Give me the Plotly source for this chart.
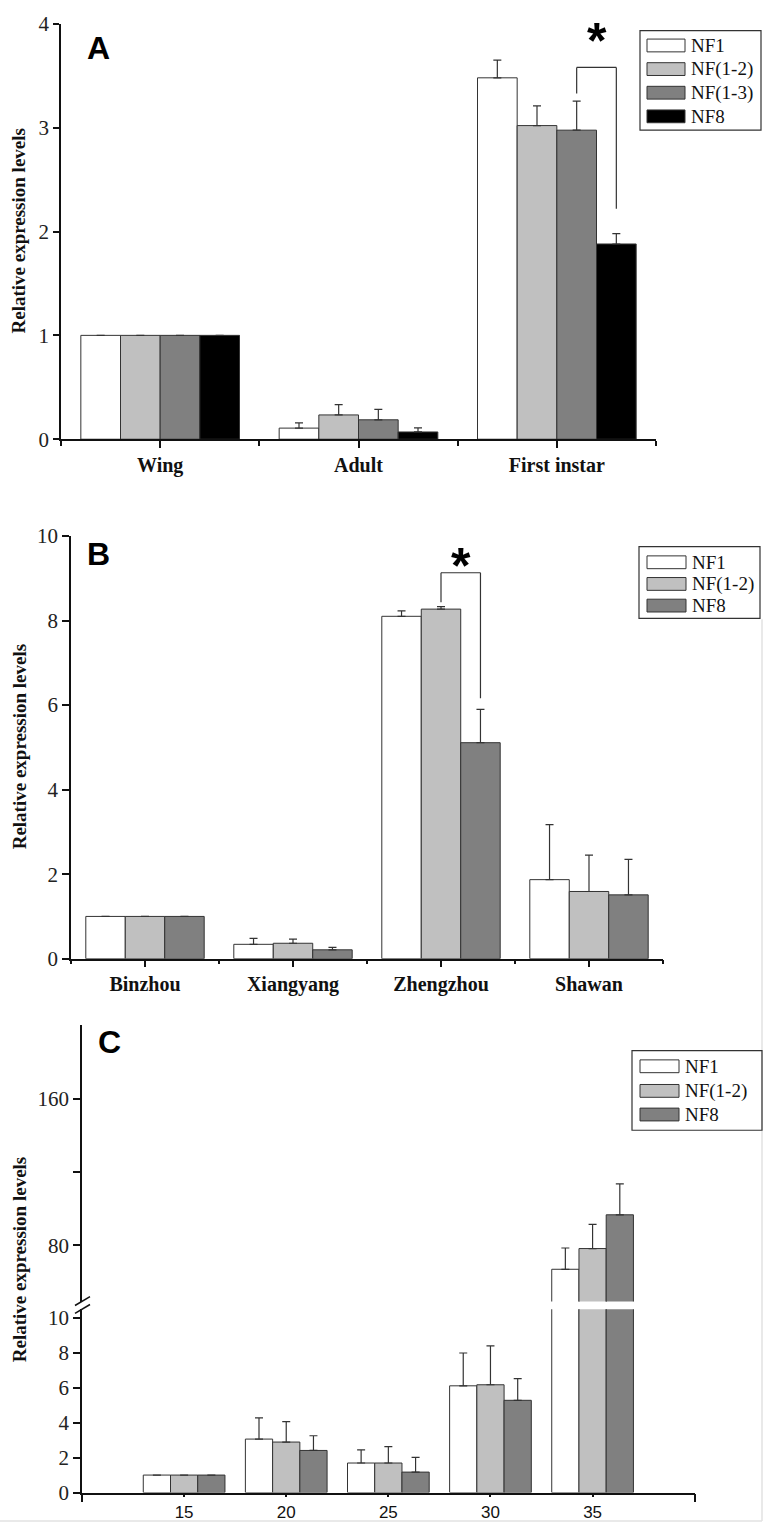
import plotly.graph_objects as go

W, H = 767, 1538
def px(x): return x / W
def py(y): return 1 - y / H

SERIF = "Liberation Serif, Times New Roman, serif"
SANS = "Liberation Sans, Arial, sans-serif"

# ---------------- data ----------------
# Panel A
cats_A = ["Wing", "Adult", "First instar"]
series_A = ["NF1", "NF(1-2)", "NF(1-3)", "NF8"]
colors_A = ["#ffffff", "#c0c0c0", "#808080", "#000000"]
nf1_A = [1.0, 0.107, 3.48]
nf12_A = [1.0, 0.234, 3.02]
nf13_A = [1.0, 0.187, 2.976]
nf8_A = [1.0, 0.07, 1.88]
nf1_A_err = [0, 0.05, 0.17]
nf12_A_err = [0, 0.10, 0.19]
nf13_A_err = [0, 0.10, 0.28]
nf8_A_err = [0, 0.04, 0.10]

# Panel B
cats_B = ["Binzhou", "Xiangyang", "Zhengzhou", "Shawan"]
series_B = ["NF1", "NF(1-2)", "NF8"]
colors_B = ["#ffffff", "#c0c0c0", "#808080"]
nf1_B = [1.0, 0.34, 8.10, 1.87]
nf12_B = [1.0, 0.365, 8.27, 1.59]
nf8_B = [1.0, 0.21, 5.11, 1.51]
nf1_B_err = [0, 0.14, 0.13, 1.30]
nf12_B_err = [0, 0.10, 0.06, 0.86]
nf8_B_err = [0, 0.06, 0.79, 0.84]

# Panel C
temps_C = [15, 20, 25, 30, 35]
series_C = ["NF1", "NF(1-2)", "NF8"]
colors_C = ["#ffffff", "#c0c0c0", "#808080"]
nf1_C = [1.0, 3.06, 1.69, 6.11, 66.9]
nf12_C = [1.0, 2.89, 1.69, 6.17, 78.2]
nf8_C = [1.0, 2.41, 1.17, 5.28, 96.6]
nf1_C_err = [0, 1.21, 0.75, 1.88, 11.6]
nf12_C_err = [0, 1.17, 0.94, 2.23, 13.2]
nf8_C_err = [0, 0.84, 0.84, 1.24, 16.9]

vals_A = [nf1_A, nf12_A, nf13_A, nf8_A]
errs_A = [nf1_A_err, nf12_A_err, nf13_A_err, nf8_A_err]
vals_B = [nf1_B, nf12_B, nf8_B]
errs_B = [nf1_B_err, nf12_B_err, nf8_B_err]
vals_C = [nf1_C, nf12_C, nf8_C]
errs_C = [nf1_C_err, nf12_C_err, nf8_C_err]

fig = go.Figure()

def add_bars(xs, vals, errs, names, colors, xa, ya, tag):
    for v, e, n, c in zip(vals, errs, names, colors):
        fig.add_trace(go.Bar(
            x=xs, y=v, name=n, showlegend=False,
            offsetgroup=n,
            marker=dict(color=c, line=dict(color="#333333", width=1)),
            error_y=dict(type="data", symmetric=False, array=e,
                         arrayminus=[0] * len(e), color="#333333",
                         thickness=1.2, width=4),
            xaxis=xa, yaxis=ya, legendgroup=tag + n,
        ))

add_bars(list(range(len(cats_A))), vals_A, errs_A, series_A, colors_A, "x", "y", "A")
add_bars(list(range(len(cats_B))), vals_B, errs_B, series_B, colors_B, "x2", "y2", "B")
add_bars(temps_C, vals_C, errs_C, series_C, colors_C, "x3", "y3", "C")
add_bars(temps_C, vals_C, errs_C, series_C, colors_C, "x3", "y4", "C")

axis_common = dict(showline=True, linecolor="#111111", linewidth=1.6,
                   showgrid=False, zeroline=False, ticks="outside",
                   tickcolor="#111111", tickwidth=1.5)
ytickfont = dict(family=SERIF, size=21, color="#222222")
xcatfont = dict(family=SERIF, size=20, color="#111111", weight="bold")

fig.update_layout(
    width=W, height=H, margin=dict(l=0, r=0, t=0, b=0),
    paper_bgcolor="white", plot_bgcolor="white",
    barmode="group", bargap=0.2, bargroupgap=0,
    showlegend=False,
    xaxis=dict(domain=[px(61), px(656)], range=[-0.5, 2.5], anchor="y",
               tickmode="array", tickvals=list(range(len(cats_A))), ticktext=cats_A,
               tickfont=xcatfont, ticklen=7,
               minor=dict(tickmode="array", tickvals=[-0.5, 0.5, 1.5, 2.5],
                          ticks="outside", ticklen=5, tickcolor="#111111", tickwidth=1.5),
               **axis_common),
    yaxis=dict(domain=[py(434), py(12)], range=[0, 4], anchor="x",
               tickmode="array", tickvals=[0, 1, 2, 3, 4], tickfont=ytickfont,
               ticklen=6, **axis_common),
    xaxis2=dict(domain=[px(71), px(663)], range=[-0.5, 3.5], anchor="y2",
                tickmode="array", tickvals=list(range(len(cats_B))), ticktext=cats_B,
                tickfont=xcatfont, ticklen=7,
                minor=dict(tickmode="array", tickvals=[-0.5, 0.5, 1.5, 2.5, 3.5],
                           ticks="outside", ticklen=4, tickcolor="#111111", tickwidth=1.5),
                **axis_common),
    yaxis2=dict(domain=[py(961.7), py(532.3)], range=[0, 10], anchor="x2",
                tickmode="array", tickvals=[0, 2, 4, 6, 8, 10], tickfont=ytickfont,
                ticklen=7, **axis_common),
    xaxis3=dict(domain=[px(82), px(694.7)], range=[10, 40], anchor="y3",
                tickmode="array", tickvals=temps_C, ticktext=[str(t) for t in temps_C],
                tickfont=dict(family=SANS, size=17, color="#111111"), ticklen=3,
                minor=dict(tickmode="array", tickvals=[10, 40],
                           ticks="outside", ticklen=8, tickcolor="#111111", tickwidth=1.5),
                **axis_common),
    yaxis3=dict(domain=[py(1504), py(1317.7)], range=[0, 10.5], anchor="x3",
                tickmode="array", tickvals=[0, 2, 4, 6, 8, 10], tickfont=ytickfont,
                ticklen=7, **axis_common),
    yaxis4=dict(domain=[py(1310), py(1029.2)], range=[49.3, 200], anchor="x3",
                tickmode="array", tickvals=[80, 120, 160], ticktext=["80", "", "160"],
                tickfont=ytickfont, ticklen=7, **axis_common),
)

shapes = []
annos = []

# faint frame around the lower image area (as in the scanned figure)
shapes.append(dict(type="line", xref="paper", yref="paper", x0=px(762), x1=px(762),
                   y0=py(1533), y1=py(617), line=dict(color="#e2e2e2", width=1.5)))
shapes.append(dict(type="line", xref="paper", yref="paper", x0=px(0), x1=px(762),
                   y0=py(1533), y1=py(1533), line=dict(color="#e2e2e2", width=1.5)))

# y-axis titles
for yc in [223, 747, 1268]:
    annos.append(dict(text="<b>Relative expression levels</b>", x=px(19), y=py(yc),
                      xref="paper", yref="paper", textangle=-90, showarrow=False,
                      font=dict(family=SERIF, size=19, color="#111111"),
                      xanchor="center", yanchor="middle"))

# panel letters
for lab, xc, yc in [("A", 98, 37), ("B", 98, 551), ("C", 109, 1046)]:
    annos.append(dict(text="<b>%s</b>" % lab, x=px(xc), y=py(yc), xref="paper", yref="paper",
                      showarrow=False, font=dict(family=SANS, size=32, color="#000000"),
                      xanchor="center", yanchor="middle"))

# significance brackets (data coordinates)
def bracket(xa, ya, x0, x1, y0, ytop, y1, star_y):
    pts = [(x0, y0), (x0, ytop), (x1, ytop), (x1, y1)]
    for (a, b), (c, d) in zip(pts[:-1], pts[1:]):
        shapes.append(dict(type="line", xref=xa, yref=ya, x0=a, y0=b, x1=c, y1=d,
                           line=dict(color="#333333", width=1.2)))
    annos.append(dict(text="<b>*</b>", x=(x0 + x1) / 2, y=star_y, xref=xa, yref=ya,
                      showarrow=False, font=dict(family=SANS, size=50, color="#000000"),
                      xanchor="center", yanchor="middle"))

bracket("x", "y", 2.1, 2.3, 3.33, 3.58, 2.22, 3.83)
bracket("x2", "y2", 2.0, 2.0 + 0.8 / 3, 8.43, 9.13, 6.16, 9.28)

# manual legends
def legend(names, colors, box, rows, sw_x0, sw_x1, tx):
    x0, y0, x1, y1 = box
    shapes.append(dict(type="rect", xref="paper", yref="paper", x0=px(x0), x1=px(x1),
                       y0=py(y1), y1=py(y0), line=dict(color="#333333", width=1.2),
                       fillcolor="rgba(0,0,0,0)"))
    for n, c, ry in zip(names, colors, rows):
        shapes.append(dict(type="rect", xref="paper", yref="paper", x0=px(sw_x0), x1=px(sw_x1),
                           y0=py(ry + 6.5), y1=py(ry - 6.5), line=dict(color="#333333", width=1),
                           fillcolor=c))
        annos.append(dict(text=n, x=px(tx), y=py(ry), xref="paper", yref="paper",
                          showarrow=False, font=dict(family=SERIF, size=19, color="#111111"),
                          xanchor="left", yanchor="middle"))

legend(series_A, colors_A, (640, 19, 761, 120), [34, 58, 82, 106], 647, 685, 689)
legend(series_B, colors_B, (639, 543, 760, 616), [559, 581, 603], 647, 686, 690)
legend(series_C, colors_C, (632, 1055, 762, 1136), [1071, 1096, 1120], 640, 679, 683)

# axis break marks on panel C
for dy in (0, 8):
    shapes.append(dict(type="line", xref="paper", yref="paper",
                       x0=px(75), y0=py(1314 + dy), x1=px(90), y1=py(1305 + dy),
                       line=dict(color="#111111", width=1.5)))

fig.update_layout(shapes=shapes, annotations=annos)
fig.write_html("out.html", config={"displayModeBar": False},
               post_script="document.body.style.margin='0';document.body.style.overflow='hidden';")
